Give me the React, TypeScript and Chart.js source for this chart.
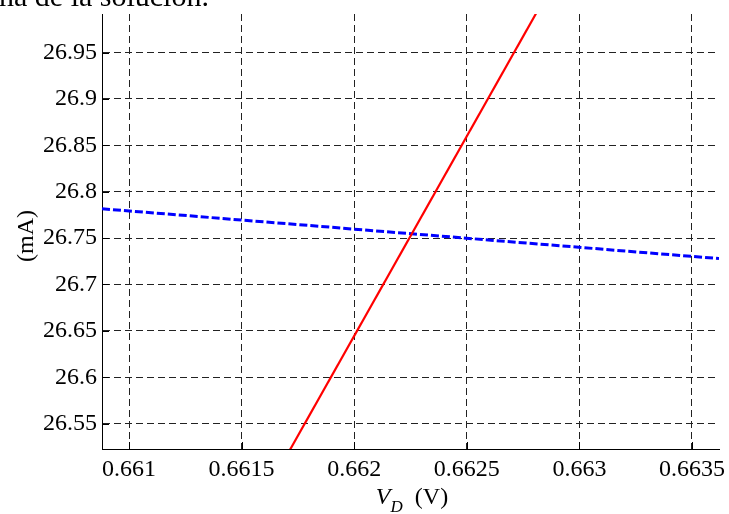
import React, { useEffect, useRef } from "react";
import { Chart, registerables } from "chart.js";

Chart.register(...registerables);

// ---- data ----
const xTickValues = [0.661, 0.6615, 0.662, 0.6625, 0.663, 0.6635];
const xTickLabels = ["0.661", "0.6615", "0.662", "0.6625", "0.663", "0.6635"];
const yTickValues = [26.55, 26.6, 26.65, 26.7, 26.75, 26.8, 26.85, 26.9, 26.95];
const yTickLabels = ["26.55", "26.6", "26.65", "26.7", "26.75", "26.8", "26.85", "26.9", "26.95"];
const xRange = [0.66088, 0.66362];
const yRange = [26.5227, 26.9915];

// diode curve (red, solid)
const diodeV = [0.661664, 0.662826];
const diodeI = [26.5, 27.0];
// load line (blue, dashed)
const loadV = [0.66088, 0.66362];
const loadI = [26.7816, 26.7279];

const FONT = "'Liberation Serif', 'Times New Roman', serif";

const labelFor = (vals: number[], labels: string[], v: number) => {
  const i = vals.findIndex((t) => Math.abs(t - v) < 1e-9);
  return i >= 0 ? labels[i] : "";
};

const innerTicks = {
  id: "innerTicks",
  afterDraw(chart: any) {
    const { ctx, chartArea, scales } = chart;
    ctx.save();
    ctx.strokeStyle = "#000";
    ctx.lineWidth = 1;
    ctx.setLineDash([]);
    ctx.beginPath();
    for (const v of xTickValues) {
      const px = Math.round(scales.x.getPixelForValue(v)) + 0.5;
      ctx.moveTo(px, chartArea.bottom);
      ctx.lineTo(px, chartArea.bottom - 7);
    }
    for (const v of yTickValues) {
      const py = Math.round(scales.y.getPixelForValue(v)) + 0.5;
      ctx.moveTo(chartArea.left, py);
      ctx.lineTo(chartArea.left + 7, py);
    }
    ctx.stroke();
    ctx.restore();
  },
};

const zeroPad = (s: any) => {
  s.paddingTop = 0;
  s.paddingBottom = 0;
  s.paddingLeft = 0;
  s.paddingRight = 0;
};

export default function App() {
  const ref = useRef<HTMLCanvasElement | null>(null);

  useEffect(() => {
    if (!ref.current) return;
    const chart = new Chart(ref.current, {
      type: "line",
      data: {
        datasets: [
          {
            data: diodeV.map((v, i) => ({ x: v, y: diodeI[i] })),
            borderColor: "#ff0000",
            borderWidth: 2.2,
            pointRadius: 0,
            fill: false,
          },
          {
            data: loadV.map((v, i) => ({ x: v, y: loadI[i] })),
            borderColor: "#0000ff",
            borderWidth: 3,
            borderDash: [8, 3],
            pointRadius: 0,
            fill: false,
          },
        ],
      },
      options: {
        animation: false,
        responsive: false,
        devicePixelRatio: 1,
        layout: { padding: { left: 0, right: 10, top: 14, bottom: 0 } },
        plugins: { legend: { display: false }, tooltip: { enabled: false } },
        scales: {
          x: {
            type: "linear",
            min: xRange[0],
            max: xRange[1],
            afterBuildTicks: (s: any) => {
              s.ticks = xTickValues.map((v) => ({ value: v }));
            },
            afterFit: (s: any) => {
              s.height = 65;
              zeroPad(s);
            },
            ticks: {
              autoSkip: false,
              maxRotation: 0,
              padding: 6,
              color: "#000",
              font: { family: FONT, size: 24 },
              callback: (v: any) => labelFor(xTickValues, xTickLabels, Number(v)),
            },
            grid: { color: "#222", lineWidth: 1, drawTicks: false },
            border: { display: true, color: "#000", width: 1, dash: [7, 4] },
          },
          y: {
            type: "linear",
            min: yRange[0],
            max: yRange[1],
            afterBuildTicks: (s: any) => {
              s.ticks = yTickValues.map((v) => ({ value: v }));
            },
            afterFit: (s: any) => {
              s.width = 102;
              zeroPad(s);
            },
            ticks: {
              autoSkip: false,
              padding: 5,
              color: "#000",
              font: { family: FONT, size: 24 },
              callback: (v: any) => labelFor(yTickValues, yTickLabels, Number(v)),
            },
            grid: { color: "#222", lineWidth: 1, drawTicks: false },
            border: { display: true, color: "#000", width: 1, dash: [7, 4] },
          },
        },
      },
      plugins: [innerTicks],
    } as any);
    return () => chart.destroy();
  }, []);

  return (
    <div
      style={{
        position: "fixed",
        left: 0,
        top: 0,
        width: 729,
        height: 514,
        background: "#fff",
        overflow: "hidden",
        fontFamily: FONT,
        color: "#000",
      }}
    >
      <canvas ref={ref} width={729} height={514} style={{ position: "absolute", left: 0, top: 0, width: 729, height: 514 }} />
      <div
        style={{
          position: "absolute",
          left: -1,
          top: -19,
          fontSize: 30,
          lineHeight: "30px",
          whiteSpace: "nowrap",
        }}
      >
        na de la solución.
      </div>
      <div
        style={{
          position: "absolute",
          left: 25,
          top: 236,
          transform: "translate(-50%, -50%) rotate(-90deg)",
          fontSize: 24,
          lineHeight: "24px",
          whiteSpace: "nowrap",
        }}
      >
        (mA)
      </div>
      <div
        style={{
          position: "absolute",
          left: 412,
          top: 484,
          transform: "translateX(-50%)",
          fontSize: 24,
          lineHeight: "24px",
          whiteSpace: "nowrap",
        }}
      >
        <i>V</i>
        <sub style={{ fontSize: 17, verticalAlign: "baseline", display: "inline-block", transform: "translateY(8px)" }}>
          <i>D</i>
        </sub>
        {"\u00a0\u00a0(V)"}
      </div>
    </div>
  );
}
